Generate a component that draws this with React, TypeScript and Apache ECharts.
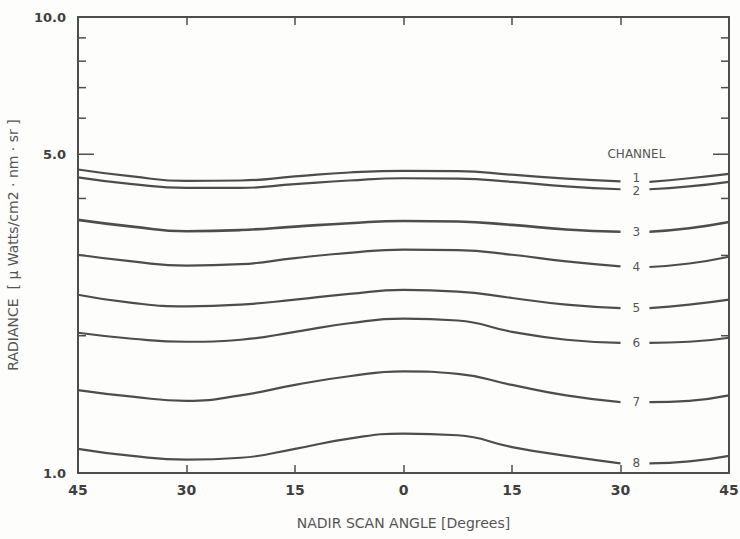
import React, { useEffect, useRef } from "react";
import * as echarts from "echarts";

// Nadir scan angle (negative = left half of the plot), degrees
const scanAngles = [-45, -37.5, -30, -22.5, -15, -7.5, 0, 7.5, 15, 22.5, 30, 34, 39.5, 45];

const channelNames = ["1", "2", "3", "4", "5", "6", "7", "8"];

// Radiance (µWatts/cm2·nm·sr)
const ch1 = [4.63, 4.47, 4.37, 4.38, 4.47, 4.56, 4.60, 4.59, 4.51, 4.42, 4.36, 4.35, 4.43, 4.53];
const ch2 = [4.45, 4.30, 4.22, 4.22, 4.30, 4.38, 4.43, 4.42, 4.35, 4.25, 4.19, 4.19, 4.25, 4.35];
const ch3 = [3.59, 3.47, 3.39, 3.41, 3.47, 3.53, 3.57, 3.56, 3.50, 3.42, 3.38, 3.38, 3.44, 3.55];
const ch4 = [3.01, 2.91, 2.85, 2.87, 2.96, 3.04, 3.09, 3.08, 3.01, 2.91, 2.84, 2.83, 2.88, 2.98];
const ch5 = [2.46, 2.36, 2.32, 2.34, 2.40, 2.47, 2.52, 2.50, 2.42, 2.34, 2.30, 2.30, 2.34, 2.40];
const ch6 = [2.03, 1.97, 1.94, 1.96, 2.04, 2.13, 2.18, 2.16, 2.04, 1.96, 1.93, 1.93, 1.94, 1.98];
const ch7 = [1.52, 1.47, 1.44, 1.48, 1.56, 1.63, 1.67, 1.65, 1.56, 1.48, 1.43, 1.43, 1.44, 1.48];
const ch8 = [1.13, 1.09, 1.07, 1.08, 1.13, 1.19, 1.22, 1.21, 1.14, 1.09, 1.05, 1.05, 1.06, 1.09];
const channelValues = [ch1, ch2, ch3, ch4, ch5, ch6, ch7, ch8];

// where the channel number interrupts each curve
const labelGapAngle = 32.2;
const labelGapAfter = 30;

const yLabelValues = [1, 5, 10];
const yLabelTexts = ["1.0", "5.0", "10.0"];
const yMinorTicks = [2, 3, 4, 5, 6, 7, 8, 9];
const legendTitle = "CHANNEL";
const legendTitleValue = 5;

const FONT = "DejaVu Sans";
const INK = "#4d4d4d";
const TEXT = "#555555";

export default function App() {
  const ref = useRef<HTMLDivElement>(null);

  useEffect(() => {
    if (!ref.current) return;
    const chart = echarts.init(ref.current, undefined, { renderer: "svg" });

    const series = channelValues.map((vals, ci) => {
      const data: any[] = [];
      scanAngles.forEach((a, i) => {
        data.push([a, vals[i]]);
        if (a === labelGapAfter) data.push([labelGapAngle, null]);
      });
      return {
        type: "line",
        name: channelNames[ci],
        data,
        smooth: 0.5,
        symbol: "none",
        connectNulls: false,
        xAxisIndex: 0,
        yAxisIndex: 0,
        lineStyle: { color: INK, width: ci === 2 ? 2.6 : 2.2 },
        silent: true,
      };
    });

    const axisLine = { show: true, onZero: false, lineStyle: { color: INK, width: 2 } };

    chart.setOption({
      animation: false,
      backgroundColor: "#fdfdfb",
      grid: { left: 78, right: 11, top: 17, bottom: 66, outerBoundsMode: "none" },
      xAxis: [
        {
          type: "value",
          min: -45,
          max: 45,
          interval: 15,
          position: "bottom",
          axisLine,
          axisTick: { show: true, inside: true, length: 8, lineStyle: { color: INK, width: 1.5 } },
          axisLabel: {
            formatter: (v: number) => String(Math.abs(v)),
            color: "#3f3f3f",
            fontWeight: "bold",
            fontSize: 14,
            fontFamily: FONT,
            margin: 10,
          },
          splitLine: { show: false },
          name: "NADIR SCAN ANGLE [Degrees]",
          nameLocation: "middle",
          nameGap: 43,
          nameTextStyle: { color: TEXT, fontSize: 14, fontFamily: FONT },
        },
        {
          type: "value",
          min: -45,
          max: 45,
          interval: 15,
          position: "top",
          axisLine,
          axisTick: { show: true, inside: true, length: 8, lineStyle: { color: INK, width: 1.5 } },
          axisLabel: { show: false },
          splitLine: { show: false },
        },
      ],
      yAxis: [
        {
          type: "log",
          logBase: 10,
          min: 1,
          max: 10,
          position: "left",
          axisLine,
          axisTick: { show: false },
          axisLabel: { show: false },
          splitLine: { show: false },
          name: "RADIANCE  [ μ Watts/cm2 · nm · sr ]",
          nameLocation: "middle",
          nameGap: 58,
          nameRotate: 90,
          nameTextStyle: { color: TEXT, fontSize: 14, fontFamily: FONT },
        },
        {
          type: "log",
          logBase: 10,
          min: 1,
          max: 10,
          position: "right",
          axisLine,
          axisTick: { show: false },
          axisLabel: { show: false },
          splitLine: { show: false },
        },
      ],
      series,
    });

    const toPx = (x: number, y: number) =>
      chart.convertToPixel({ xAxisIndex: 0, yAxisIndex: 0 }, [x, y]) as number[];

    const xl = toPx(-45, 1)[0];
    const xr = toPx(45, 1)[0];
    const graphics: any[] = [];

    yMinorTicks.forEach((v) => {
      const yy = toPx(0, v)[1];
      const len = v === 5 ? 16 : 8;
      graphics.push({
        type: "line",
        shape: { x1: xl, y1: yy, x2: xl + len, y2: yy },
        style: { stroke: INK, lineWidth: 1.5 },
        silent: true,
      });
      graphics.push({
        type: "line",
        shape: { x1: xr - len, y1: yy, x2: xr, y2: yy },
        style: { stroke: INK, lineWidth: 1.5 },
        silent: true,
      });
    });

    yLabelValues.forEach((v, i) => {
      const yy = toPx(0, v)[1];
      graphics.push({
        type: "text",
        x: xl - 12,
        y: yy,
        style: {
          text: yLabelTexts[i],
          fill: "#3f3f3f",
          font: `bold 13px "${FONT}"`,
          align: "right",
          verticalAlign: "middle",
        },
        silent: true,
      });
    });

    const [lx, ly] = toPx(labelGapAngle, legendTitleValue);
    graphics.push({
      type: "text",
      x: lx,
      y: ly,
      style: {
        text: legendTitle,
        fill: TEXT,
        font: `12px "${FONT}"`,
        align: "center",
        verticalAlign: "middle",
      },
      silent: true,
    });

    const gi = scanAngles.indexOf(labelGapAfter);
    channelValues.forEach((vals, ci) => {
      const v = Math.sqrt(vals[gi] * vals[gi + 1]);
      const [px, py] = toPx(labelGapAngle, v);
      // the two closest curves: nudge their numbers apart as in the original
      const nudge = ci === 0 ? -3.5 : ci === 1 ? 1.5 : 0;
      graphics.push({
        type: "text",
        x: px,
        y: py + nudge,
        style: {
          text: channelNames[ci],
          fill: TEXT,
          font: `12px "${FONT}"`,
          align: "center",
          verticalAlign: "middle",
        },
        silent: true,
      });
    });

    chart.setOption({ graphic: graphics });

    return () => chart.dispose();
  }, []);

  return (
    <div
      ref={ref}
      style={{ position: "fixed", left: 0, top: 0, width: 740, height: 539 }}
    />
  );
}
